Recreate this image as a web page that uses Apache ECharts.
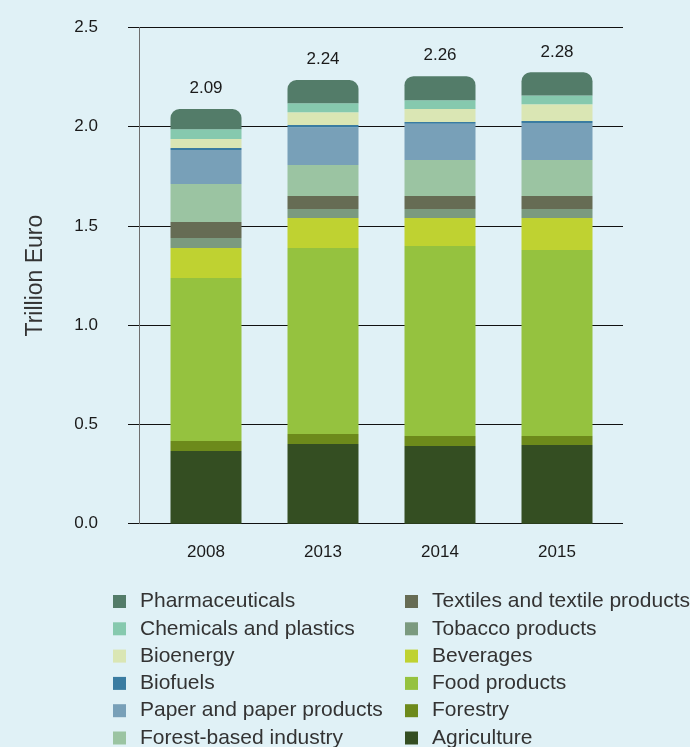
<!DOCTYPE html>
<html>
<head>
<meta charset="utf-8">
<script src="https://cdn.jsdelivr.net/npm/echarts@6/dist/echarts.min.js"></script>
<style>
  html, body { margin: 0; padding: 0; background: #e0f1f6; }
  #chart { width: 690px; height: 747px; }
</style>
</head>
<body>
<div id="chart"></div>
<script>
const years = ["2008", "2013", "2014", "2015"];
const totals = [2.09, 2.24, 2.26, 2.28];

// bottom to top of each stack
const agriculture = [0.366, 0.402, 0.391, 0.397];
const forestry = [0.051, 0.050, 0.051, 0.045];
const foodProducts = [0.821, 0.937, 0.957, 0.937];
const beverages = [0.151, 0.151, 0.141, 0.161];
const tobacco = [0.050, 0.045, 0.045, 0.045];
const textiles = [0.081, 0.066, 0.066, 0.066];
const forestBased = [0.191, 0.156, 0.181, 0.181];
const paper = [0.172, 0.191, 0.183, 0.187];
const biofuels = [0.010, 0.011, 0.009, 0.010];
const bioenergy = [0.045, 0.064, 0.065, 0.084];
const chemicals = [0.049, 0.045, 0.045, 0.045];
const pharma = [0.102, 0.117, 0.121, 0.116];

const yTicks = [0, 0.5, 1.0, 1.5, 2.0, 2.5];

const leftLegend = ["Pharmaceuticals", "Chemicals and plastics", "Bioenergy", "Biofuels",
  "Paper and paper products", "Forest-based industry"];
const rightLegend = ["Textiles and textile products", "Tobacco products", "Beverages",
  "Food products", "Forestry", "Agriculture"];

const stack = [
  { name: "Agriculture", data: agriculture, color: "#344e22" },
  { name: "Forestry", data: forestry, color: "#6d8a1b" },
  { name: "Food products", data: foodProducts, color: "#95c23f" },
  { name: "Beverages", data: beverages, color: "#bfd231" },
  { name: "Tobacco products", data: tobacco, color: "#7b9a7f" },
  { name: "Textiles and textile products", data: textiles, color: "#666c54" },
  { name: "Forest-based industry", data: forestBased, color: "#9bc4a2" },
  { name: "Paper and paper products", data: paper, color: "#78a0b8" },
  { name: "Biofuels", data: biofuels, color: "#3a7ca1" },
  { name: "Bioenergy", data: bioenergy, color: "#dae6b4" },
  { name: "Chemicals and plastics", data: chemicals, color: "#86c9ae" },
  { name: "Pharmaceuticals", data: pharma, color: "#537c69" },
];

const font = "'Liberation Sans', Arial, sans-serif";
const chart = echarts.init(document.getElementById("chart"));

const legendBase = {
  orient: "vertical",
  top: 591,
  height: 180,
  padding: 0,
  icon: "rect",
  itemWidth: 13,
  itemHeight: 13,
  itemGap: 6.3,
  selectedMode: false,
  textStyle: {
    fontFamily: font,
    fontSize: 21,
    lineHeight: 21,
    color: "#333",
    padding: [0, 0, 0, 9],
  },
};

const series = stack.map((s, i) => {
  const top = i === stack.length - 1;
  return {
    name: s.name,
    type: "bar",
    stack: "total",
    xAxisIndex: 1,
    yAxisIndex: 1,
    barWidth: 71,
    data: s.data,
    itemStyle: {
      color: s.color,
      borderRadius: top ? [9, 9, 0, 0] : 0,
    },
    label: top
      ? {
          show: true,
          position: "top",
          distance: 12,
          fontFamily: font,
          fontSize: 17,
          color: "#1a1a1a",
          formatter: (p) => totals[p.dataIndex].toFixed(2),
        }
      : { show: false },
  };
});

const option = {
  backgroundColor: "#e0f1f6",
  animation: false,
  legend: [
    Object.assign({}, legendBase, { left: 113, data: leftLegend }),
    Object.assign({}, legendBase, { left: 405, data: rightLegend }),
  ],
  grid: [
    { left: 139, right: 67, top: 27.5, bottom: 223.3 },
    { left: 147.5, right: 74.5, top: 27.5, bottom: 223.3 },
  ],
  xAxis: [
    { type: "category", gridIndex: 0, data: years, show: false },
    {
      type: "category",
      gridIndex: 1,
      data: years,
      axisLine: { show: false },
      axisTick: { show: false },
      axisLabel: { fontFamily: font, fontSize: 17, color: "#1a1a1a", margin: 20 },
    },
  ],
  yAxis: [
    {
      type: "value",
      gridIndex: 0,
      min: yTicks[0],
      max: yTicks[yTicks.length - 1],
      interval: 0.5,
      name: "Trillion Euro",
      nameLocation: "middle",
      nameGap: 92,
      nameTextStyle: { fontFamily: font, fontSize: 23, color: "#333" },
      axisLine: { show: true, lineStyle: { color: "#6e6e6e", width: 1 } },
      axisTick: { show: true, inside: false, length: 11, lineStyle: { color: "#111" } },
      axisLabel: {
        fontFamily: font,
        fontSize: 17,
        color: "#1a1a1a",
        margin: 41,
        formatter: (v) => v.toFixed(1),
      },
      splitLine: { show: true, lineStyle: { color: "#111", width: 1 } },
    },
    {
      type: "value",
      gridIndex: 1,
      min: yTicks[0],
      max: yTicks[yTicks.length - 1],
      interval: 0.5,
      show: false,
      splitLine: { show: false },
    },
  ],
  series: series,
};

chart.setOption(option);
</script>
</body>
</html>
